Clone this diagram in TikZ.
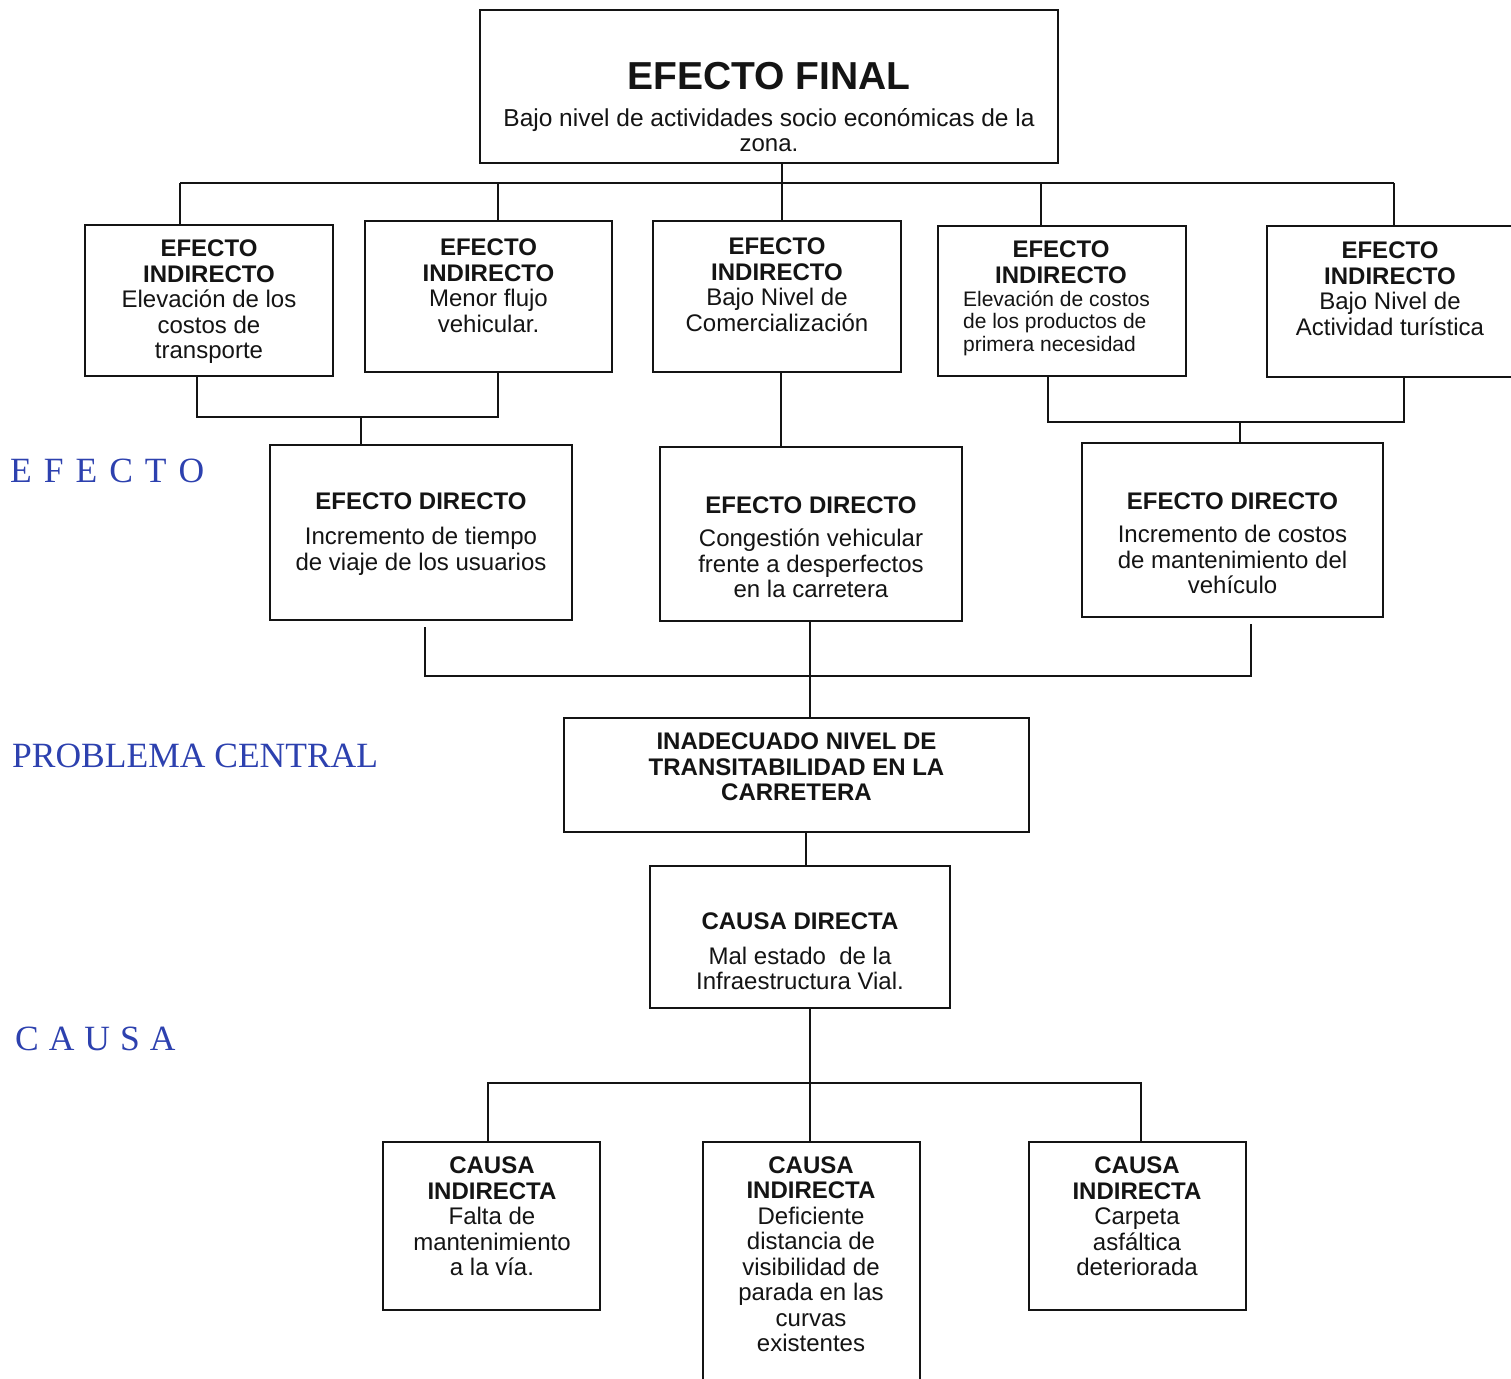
\documentclass[tikz,border=0pt]{standalone}
\usepackage{fontspec}
\setmainfont{Liberation Sans}
\newfontfamily\lblfont{Liberation Serif}
\definecolor{lblblue}{RGB}{45,65,175}
\definecolor{ink}{RGB}{20,20,20}
\begin{document}
\begin{tikzpicture}[x=1pt,y=-1pt,
  box/.style={draw=ink, line width=2.9pt, inner sep=0pt, fill=white},
  conn/.style={draw=ink, line width=2.9pt, line join=miter},
  txt/.style={align=center, inner sep=0pt, text=ink,
    font=\fontsize{24}{25.5}\selectfont},
  side/.style={anchor=base west, inner sep=0pt, text=lblblue,
    font=\lblfont\fontsize{35.5}{37}\selectfont}]
\useasboundingbox (0,0) rectangle (1511,1378);
\clip (0,0) rectangle (1511,1378);
\fill[white] (0,0) rectangle (1511,1378);

% ---- final effect ----
\node[box, minimum width=578pt, minimum height=153pt] (top) at (769,86.5) {};
\node[txt] (topt) at (769,107.5) {{\fontsize{39}{40}\selectfont\bfseries EFECTO FINAL}\\[11pt]
  \fontsize{24.5}{25}\selectfont Bajo nivel de actividades socio económicas de la\\zona.};

% ---- indirect effects ----
\node[box, minimum width=248pt, minimum height=151pt] (ei1) at (209,300.5) {};
\node[box, minimum width=247pt, minimum height=151pt] (ei2) at (488.5,296.5) {};
\node[box, minimum width=248pt, minimum height=151pt] (ei3) at (777,296.5) {};
\node[box, minimum width=248pt, minimum height=150pt] (ei4) at (1062,301) {};
\node[box, minimum width=258pt, minimum height=151pt] (ei5) at (1396,301.5) {};

\node[txt] (ei1t) at (209,302) {\bfseries EFECTO\\\bfseries INDIRECTO\\Elevación de los\\costos de\\transporte};
\node[txt] (ei2t) at (488.5,285.5) {\bfseries EFECTO\\\bfseries INDIRECTO\\Menor flujo\\vehicular.};
\node[txt] (ei3t) at (777,284.5) {\bfseries EFECTO\\\bfseries INDIRECTO\\Bajo Nivel de\\Comercialización};
\node[txt, anchor=north] (ei4t) at (1061,241) {\bfseries EFECTO\\\bfseries INDIRECTO\\[-2.5pt]
  \hspace*{-9pt}{\fontsize{21}{22.5}\selectfont\begin{tabular}[t]{@{}l@{}}Elevación de costos\\de los productos de\\primera necesidad\end{tabular}}};
\node[txt] (ei5t) at (1390,288.5) {\bfseries EFECTO\\\bfseries INDIRECTO\\Bajo Nivel de\\Actividad turística};

% ---- direct effects ----
\node[box, minimum width=302pt, minimum height=175pt] (de1) at (421,532.5) {};
\node[box, minimum width=302pt, minimum height=174pt] (de2) at (811,534) {};
\node[box, minimum width=301pt, minimum height=174pt] (de3) at (1232.5,530) {};

\node[txt] (de1t) at (421,534) {\bfseries EFECTO DIRECTO\\[10pt]Incremento de tiempo\\de viaje de los usuarios};
\node[txt] (de2t) at (811,547) {\bfseries EFECTO DIRECTO\\[8pt]Congestión vehicular\\frente a desperfectos\\en la carretera};
\node[txt] (de3t) at (1232.5,543) {\bfseries EFECTO DIRECTO\\[8pt]Incremento de costos\\de mantenimiento del\\vehículo};

% ---- central problem ----
\node[box, minimum width=465pt, minimum height=114pt] (pc) at (796.5,775) {};
\node[txt, font=\fontsize{24}{25.5}\selectfont\bfseries] (pct) at (796.5,767)
  {INADECUADO NIVEL DE\\TRANSITABILIDAD EN LA\\CARRETERA};

% ---- direct cause ----
\node[box, minimum width=300pt, minimum height=142pt] (cd) at (800,937) {};
\node[txt] (cdt) at (800,951.5) {\bfseries CAUSA DIRECTA\\[9pt]Mal estado\ \ de la\\Infraestructura Vial.};

% ---- indirect causes ----
\node[box, minimum width=217pt, minimum height=168pt] (ci1) at (491.5,1226) {};
\node[box, minimum width=217pt, minimum height=258pt] (ci2) at (811.5,1271) {};
\node[box, minimum width=217pt, minimum height=168pt] (ci3) at (1137.5,1226) {};

\node[txt] (ci1t) at (492,1216.5) {\bfseries CAUSA\\\bfseries INDIRECTA\\Falta de\\mantenimiento\\a la vía.};
\node[txt] (ci2t) at (811,1254) {\bfseries CAUSA\\\bfseries INDIRECTA\\Deficiente\\distancia de\\visibilidad de\\parada en las\\curvas\\existentes};
\node[txt] (ci3t) at (1137,1216.5) {\bfseries CAUSA\\\bfseries INDIRECTA\\Carpeta\\asfáltica\\deteriorada};

% ---- side labels ----
\node[side] (lblE) at (10,482) {E\hspace{12pt}F\hspace{12pt}E\hspace{12pt}C\hspace{12pt}T\hspace{12pt}O};
\node[side] (lblP) at (12,767) {PROBLEMA CENTRAL};
\node[side] (lblC) at (15,1050) {C\hspace{10pt}A\hspace{10pt}U\hspace{10pt}S\hspace{10pt}A};

% ---- junction points ----
\coordinate (a1) at (180,183);
\coordinate (a2) at (498,183);
\coordinate (a3) at (782,183);
\coordinate (a4) at (1041,183);
\coordinate (a5) at (1394,183);
\coordinate (b1) at (197,417);
\coordinate (b0) at (361,417);
\coordinate (b2) at (498,417);
\coordinate (c0) at (781,400);
\coordinate (b3) at (1048,422);
\coordinate (b5) at (1240,422);
\coordinate (b4) at (1404,422);
\coordinate (e1) at (425,676);
\coordinate (e0) at (810,676);
\coordinate (e2) at (1251,676);
\coordinate (f0) at (806,850);
\coordinate (g1) at (488,1083);
\coordinate (g0) at (810,1083);
\coordinate (g2) at (1141,1083);

% ---- connectors ----
\draw[conn] (a3 |- top.south) -- (a3);
\draw[conn] (a1) -- (a5);
\draw[conn] (a1) -- (a1 |- ei1.north);
\draw[conn] (a2) -- (a2 |- ei2.north);
\draw[conn] (a3) -- (a3 |- ei3.north);
\draw[conn] (a4) -- (a4 |- ei4.north);
\draw[conn] (a5) -- (a5 |- ei5.north);

\draw[conn] (b1 |- ei1.south) -- (b1) -- (b2) -- (b2 |- ei2.south);
\draw[conn] (b0) -- (b0 |- de1.north);
\draw[conn] (c0 |- ei3.south) -- (c0 |- de2.north);
\draw[conn] (b3 |- ei4.south) -- (b3) -- (b4) -- (b4 |- ei5.south);
\draw[conn] (b5) -- (b5 |- de3.north);

\draw[conn] ([yshift=-6pt]e1 |- de1.south) -- (e1) -- (e2) -- ([yshift=-6pt]e2 |- de3.south);
\draw[conn] (e0 |- de2.south) -- (e0 |- pc.north);

\draw[conn] (f0 |- pc.south) -- (f0 |- cd.north);

\draw[conn] (g0 |- cd.south) -- (g0 |- ci2.north);
\draw[conn] (g1 |- ci1.north) -- (g1) -- (g2) -- (g2 |- ci3.north);
\end{tikzpicture}
\end{document}
